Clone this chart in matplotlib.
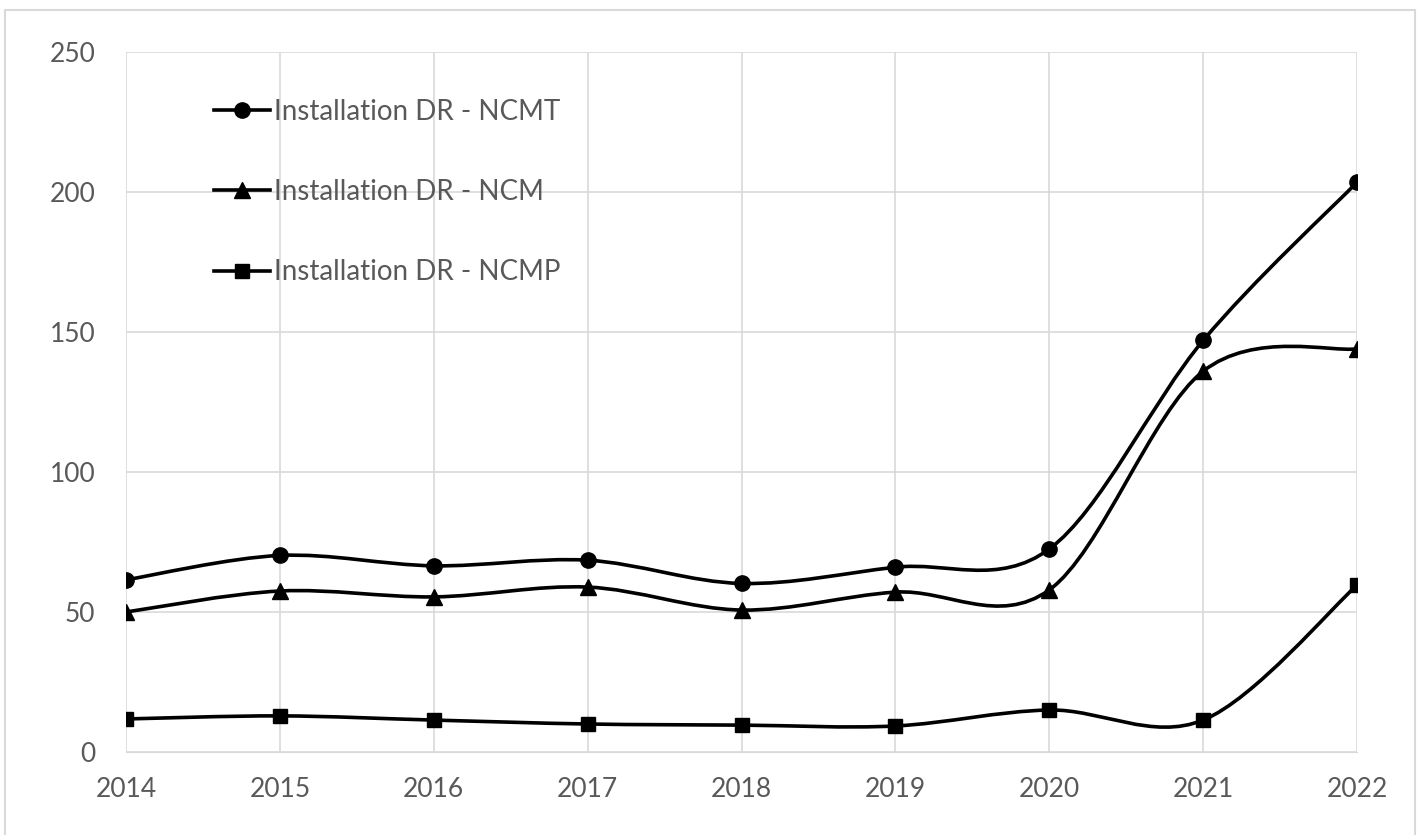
import matplotlib
matplotlib.use("Agg")
from matplotlib import pyplot as plt
from matplotlib.path import Path
from matplotlib.patches import PathPatch, Rectangle
from matplotlib.lines import Line2D

years = [2014, 2015, 2016, 2017, 2018, 2019, 2020, 2021, 2022]
ncmt = [61.5, 70.2, 66.5, 68.5, 60.2, 66.0, 72.5, 147.0, 203.5]
ncm = [50.0, 57.5, 55.4, 58.9, 50.7, 57.1, 57.9, 136.0, 144.0]
ncmp = [11.8, 12.9, 11.4, 10.0, 9.6, 9.3, 15.0, 11.4, 59.6]
labels = ["Installation DR - NCMT", "Installation DR - NCM", "Installation DR - NCMP"]
markers = ["o", "^", "s"]
msizes = [11, 11, 10]

grey = "#595959"
gridc = "#d9d9d9"
plt.rcParams['font.family'] = ['Lato', 'DejaVu Sans']


def smooth_path(x, y):
    # excel-like smoothed line: cubic bezier with catmull-rom control points
    verts = [(x[0], y[0])]
    codes = [Path.MOVETO]
    n = len(x)
    for i in range(n - 1):
        x0, y0 = (x[i - 1], y[i - 1]) if i > 0 else (x[i], y[i])
        x3, y3 = (x[i + 2], y[i + 2]) if i + 2 < n else (x[i + 1], y[i + 1])
        c1 = (x[i] + (x[i + 1] - x0) / 6, y[i] + (y[i + 1] - y0) / 6)
        c2 = (x[i + 1] - (x3 - x[i]) / 6, y[i + 1] - (y3 - y[i]) / 6)
        verts += [c1, c2, (x[i + 1], y[i + 1])]
        codes += [Path.CURVE4] * 3
    return Path(verts, codes)


fig = plt.figure(figsize=(14.24, 8.35), dpi=100)
ax = fig.add_axes([0.0885, 0.0994, 0.8645, 0.8383])

fig.patches.append(Rectangle((5 / 1424, -0.05), 1410 / 1424, 1.05 - 10 / 835,
                             transform=fig.transFigure, fill=False,
                             edgecolor=gridc, lw=1.5))

handles = []
for vals, lab, m, ms in zip([ncmt, ncm, ncmp], labels, markers, msizes):
    ax.add_patch(PathPatch(smooth_path(years, vals), fill=False, edgecolor="black",
                           lw=2.6, zorder=3))
    ax.plot(years, vals, linestyle="none", marker=m, markersize=ms, color="black", zorder=4)
    handles.append(Line2D([], [], color="black", lw=2.6, marker=m, markersize=ms))

ax.set_xlim(2014, 2022)
ax.set_ylim(0, 250)
ax.set_xticks(years)
ax.set_yticks(range(0, 251, 50))
ax.grid(True, color=gridc, lw=1.2)
ax.set_axisbelow(True)
for s in ax.spines.values():
    s.set_visible(False)
ax.spines['bottom'].set_visible(True)
ax.spines['bottom'].set_color(gridc)
ax.tick_params(length=0, labelsize=19, labelcolor=grey)
ax.tick_params(axis='y', pad=22)
ax.tick_params(axis='x', pad=18)

leg = ax.legend(handles, labels, loc="upper left", bbox_to_anchor=(0.0715, 0.933),
                frameon=False, fontsize=20, labelcolor=grey, handlelength=2.0,
                handletextpad=0.15, labelspacing=1.95, borderpad=0, borderaxespad=0)

fig.savefig("out.png", dpi=100, facecolor="white")
